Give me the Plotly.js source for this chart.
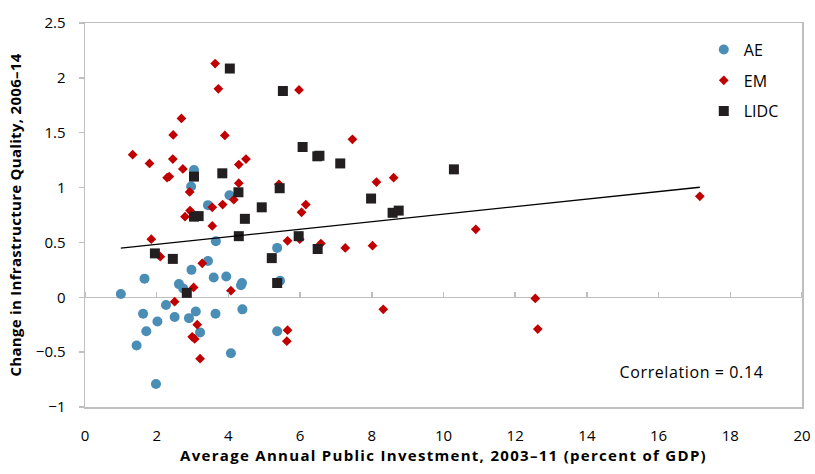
<!DOCTYPE html>
<html>
<head>
<meta charset="utf-8">
<script src="https://cdn.plot.ly/plotly-3.0.1.min.js"></script>
<style>
html,body{margin:0;padding:0;background:#fff;}
#chart{width:815px;height:474px;}
#chart .xtitle{letter-spacing:1.3px;}
#chart .ytitle{letter-spacing:0.3px;}
#chart .annotation-text{letter-spacing:0.6px;}
</style>
</head>
<body>
<div id="chart"></div>
<script>
// AE: advanced economies
const aeX = [1.0,1.44,1.62,1.66,1.71,1.98,2.02,2.26,2.5,2.62,2.74,2.9,2.96,2.97,3.04,3.09,3.21,3.43,3.43,3.59,3.64,3.65,3.94,4.03,4.07,4.35,4.38,4.39,5.36,5.36,5.44];
const aeY = [0.03,-0.44,-0.15,0.17,-0.31,-0.79,-0.22,-0.07,-0.18,0.12,0.08,-0.19,1.01,0.25,1.16,-0.13,-0.32,0.33,0.84,0.18,-0.15,0.51,0.19,0.93,-0.51,0.11,0.13,-0.11,0.45,-0.31,0.15];
// EM: emerging markets
const emX = [1.33,1.8,1.85,2.1,2.29,2.35,2.45,2.46,2.5,2.69,2.73,2.79,2.92,2.93,2.99,3.03,3.06,3.13,3.21,3.27,3.55,3.55,3.63,3.72,3.84,3.9,4.07,4.15,4.29,4.29,4.49,5.41,5.63,5.65,5.65,5.97,5.99,6.04,6.16,6.58,7.26,7.46,8.02,8.13,8.32,8.61,10.9,12.56,12.63,17.15];
const emY = [1.30,1.22,0.53,0.37,1.09,1.10,1.26,1.48,-0.04,1.63,1.17,0.735,0.96,0.79,-0.36,0.09,-0.38,-0.25,-0.56,0.31,0.82,0.65,2.13,1.90,0.845,1.475,0.06,0.89,1.21,1.04,1.26,1.03,-0.40,0.515,-0.30,1.89,0.53,0.775,0.845,0.49,0.45,1.44,0.47,1.05,-0.11,1.09,0.62,-0.01,-0.29,0.92];
// LIDC: low-income developing countries
const lidcX = [1.95,2.45,2.84,3.04,3.04,3.17,3.83,4.04,4.28,4.29,4.46,4.93,5.21,5.36,5.43,5.52,5.96,6.07,6.48,6.49,6.54,7.12,7.98,8.58,8.75,10.29];
const lidcY = [0.40,0.35,0.04,1.10,0.735,0.74,1.13,2.085,0.957,0.557,0.715,0.82,0.357,0.13,0.994,1.88,0.557,1.37,1.285,0.44,1.29,1.22,0.90,0.77,0.79,1.166];
// Linear fit line endpoints
const fitX = [1.0, 17.15];
const fitY = [0.448, 1.003];
const correlationText = "Correlation = 0.14";
const xTitle = "Average Annual Public Investment, 2003\u201311 (percent of GDP)";
const yTitle = "Change in Infrastructure Quality, 2006\u201314";

const FONT = "'Open Sans', 'Noto Sans', sans-serif";
const GRAY = "#BFBFBF";

const traces = [
  {x: fitX, y: fitY, xaxis: 'x2', yaxis: 'y', mode: 'lines', line: {color: '#000', width: 1.3}, showlegend: false, hoverinfo: 'skip'},
  {x: aeX, y: aeY, name: 'AE', mode: 'markers', type: 'scatter', legendgroup: 'a',
   marker: {symbol: 'circle', size: 10, color: '#4A8DB5'}},
  {x: emX, y: emY, name: 'EM', mode: 'markers', type: 'scatter', legendgroup: 'b',
   marker: {symbol: 'diamond', size: 7.5, color: '#C00000'}},
  {x: lidcX, y: lidcY, name: 'LIDC', mode: 'markers', type: 'scatter', legendgroup: 'c',
   marker: {symbol: 'square', size: 10, color: '#231F20'}}
];

const layout = {
  width: 815, height: 474,
  margin: {l: 85, r: 13, t: 23, b: 67},
  paper_bgcolor: '#fff', plot_bgcolor: '#fff',
  font: {family: FONT, size: 14, color: '#000'},
  xaxis: {
    range: [0, 20], dtick: 2, tick0: 0, showgrid: false, zeroline: false,
    showline: true, mirror: true, linecolor: GRAY, linewidth: 1.5,
    ticks: '', ticklabelstandoff: 14,
    tickfont: {family: FONT, size: 15, color: '#000'},
    title: {text: xTitle, font: {family: FONT, size: 15, color: '#000', weight: 'bold'}, standoff: 7}
  },
  xaxis2: {
    overlaying: 'x', anchor: 'free', position: 1/3.5, side: 'top',
    range: [0, 20], dtick: 2, tick0: 0, showgrid: false, zeroline: false, showline: false,
    ticks: 'outside', ticklen: 5, tickcolor: GRAY, tickwidth: 1.5, showticklabels: false
  },
  yaxis: {
    range: [-1, 2.5], dtick: 0.5, tick0: 0, showgrid: false,
    zeroline: true, zerolinecolor: GRAY, zerolinewidth: 1.5,
    showline: true, mirror: true, linecolor: GRAY, linewidth: 1.5,
    ticks: 'outside', ticklen: 5, tickcolor: GRAY, tickwidth: 1.5, ticklabelstandoff: 10,
    tickfont: {family: FONT, size: 15, color: '#000'},
    title: {text: yTitle, font: {family: FONT, size: 15, color: '#000', weight: 'bold'}, standoff: 10}
  },
  legend: {
    x: 0.863, y: 0.975, xanchor: 'left', yanchor: 'top',
    bgcolor: 'rgba(0,0,0,0)', borderwidth: 0, tracegroupgap: 7,
    font: {family: FONT, size: 16, color: '#000'}
  },
  annotations: [{
    text: correlationText, xref: 'paper', yref: 'paper', x: 0.846, y: 0.092,
    xanchor: 'center', yanchor: 'middle', showarrow: false,
    font: {family: FONT, size: 16, color: '#000'}
  }],
  showlegend: true
};

Plotly.newPlot('chart', traces, layout, {staticPlot: true, displayModeBar: false});
</script>
</body>
</html>
